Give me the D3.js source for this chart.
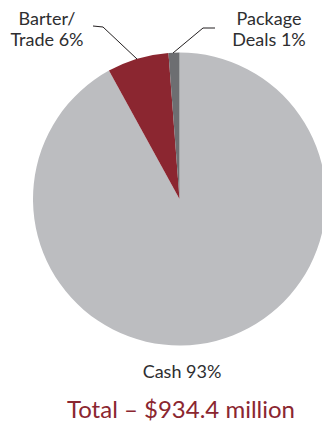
<!DOCTYPE html>
<html><head><meta charset="utf-8">
<script src="https://cdn.jsdelivr.net/npm/d3@7"></script>
<style>html,body{margin:0;padding:0;background:#fff;}svg{display:block;}</style>
</head><body>
<script>
const categories = ["Cash", "Barter/Trade", "Package Deals"];
const values = [92.0, 6.8, 1.2];
const labelLines = [["Cash 93%"], ["Barter/", "Trade 6%"], ["Package", "Deals 1%"]];
const colors = ["#bcbdc0", "#8b2630", "#6d6e71"];
const totalLabel = "Total – $934.4 million";

const W = 322, H = 423;
const cx = 179.5, cy = 199, R = 146.5;
const svg = d3.select("body").append("svg").attr("width", W).attr("height", H);
const font = "Lato, 'Open Sans', sans-serif";

const pie = d3.pie().sort(null).value(d => d);
const arcs = pie(values);
const arc = d3.arc().innerRadius(0).outerRadius(R);
const g = svg.append("g").attr("transform", `translate(${cx},${cy})`);
g.selectAll("path").data(arcs).enter().append("path")
  .attr("d", arc).attr("fill", (d, i) => colors[i]);

// leader lines
const lines = [
  [[93, 26], [103, 27], [137, 59]],
  [[215, 28], [203, 28], [173, 53]]
];
svg.selectAll("path.leader").data(lines).enter().append("path")
  .attr("class", "leader")
  .attr("d", d3.line())
  .attr("fill", "none").attr("stroke", "#231f20").attr("stroke-width", 1);

// labels
const txt = "#2e2e30";
const labelPos = [
  {x: 182, y: 378, anchor: "middle"},
  {x: 47, y: 25, anchor: "middle"},
  {x: 269, y: 25, anchor: "middle"}
];
labelLines.forEach((lines, i) => {
  const p = labelPos[i];
  const t = svg.append("text").attr("x", p.x).attr("y", p.y)
    .attr("text-anchor", p.anchor).attr("font-family", font)
    .attr("font-size", 18).attr("fill", txt);
  lines.forEach((l, j) => t.append("tspan").attr("x", p.x).attr("dy", j ? 21 : 0).text(l));
});

svg.append("text").attr("x", 181).attr("y", 418).attr("text-anchor", "middle")
  .attr("font-family", font).attr("font-size", 24).attr("fill", "#8b2630")
  .text(totalLabel);
</script>
</body></html>
